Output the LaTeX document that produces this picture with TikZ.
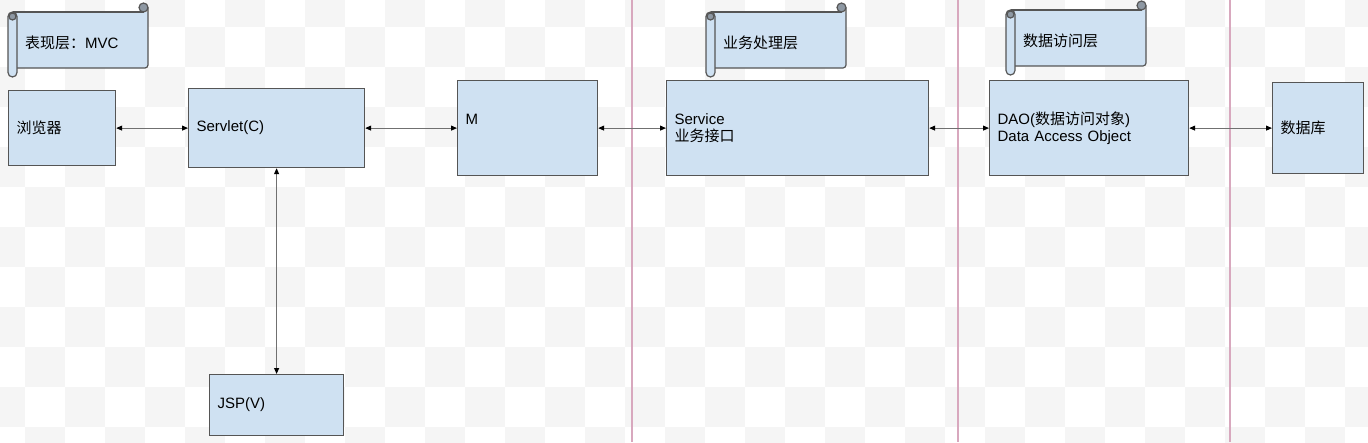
\documentclass[tikz,border=0pt]{standalone}
\usepackage{fontspec}
\setmainfont{Liberation Sans}
\newfontfamily\cjk{Noto Sans CJK SC}
\usetikzlibrary{arrows.meta}
\definecolor{boxfill}{HTML}{CFE1F2}
\definecolor{boxline}{HTML}{555555}
\definecolor{pinkline}{HTML}{D8A8BE}
\definecolor{checker}{HTML}{F5F5F5}
\definecolor{curl}{HTML}{8E98A3}
\definecolor{conn}{HTML}{707070}
\tikzset{
  txt/.style={font=\fontsize{15}{17}\selectfont, text=black},
  box/.style={txt, draw=boxline, fill=boxfill, line width=1.2pt, anchor=north west,
    inner xsep=8pt, inner ysep=0pt, align=left},
  link/.style={draw=conn, line width=1pt,
    {Triangle[length=6pt,width=5pt,color=black]}-{Triangle[length=6pt,width=5pt,color=black]}},
  lane/.style={draw=pinkline, line width=2pt},
  scrollpart/.style={draw=boxline, fill=boxfill, line width=1.2pt},
  curlpart/.style={draw=boxline, fill=curl, line width=1.2pt},
}
% name, x0, y0, x1, y1, text
\newcommand\myscroll[6]{%
  \fill[boxfill] ({#2+4.5},{#3+9}) -- (#4,{#3+9}) [rounded corners=3pt] -- (#4,{#5-9}) -- ({#2+4.5},{#5-9}) -- cycle;
  \draw[boxline, line width=1.2pt] ({#2+4.5},{#3+9}) -- ({#4-4.5},{#3+9});
  \draw[boxline, line width=1.2pt, rounded corners=3pt] (#4,{#3+4.5}) -- (#4,{#5-9}) -- ({#2+9},{#5-9});
  \filldraw[curlpart] ({#4-4.5},{#3+4.5}) circle (4.5);
  \filldraw[scrollpart, rounded corners=4.5pt] (#2,{#3+9}) rectangle ({#2+9},#5);
  \filldraw[curlpart] ({#2+4.5},{#3+13.5}) circle (3.5);
  \node[txt, anchor=west, inner sep=0pt] (#1) at ({#2+17},{#3+39.5}) {#6};
}
\begin{document}
\begin{tikzpicture}[x=1pt,y=-1pt]
\useasboundingbox (0,0) rectangle (1368,442);
\fill[white] (0,0) rectangle (1368,442);
% transparency checkerboard
\begin{scope}
\clip (0,0) rectangle (1368,442);
\foreach \i in {-1,...,34}{
  \foreach \j in {-1,...,10}{
    \pgfmathtruncatemacro\parity{mod(\i+\j+100,2)}
    \ifnum\parity=0
      \fill[checker] ({25+40*\i},{27+40*\j}) rectangle ({65+40*\i},{67+40*\j});
    \fi
  }
}
\end{scope}
% lane separators
\coordinate (l1t) at (632,0); \coordinate (l1b) at (632,442);
\coordinate (l2t) at (958,0); \coordinate (l2b) at (958,442);
\coordinate (l3t) at (1230,0); \coordinate (l3b) at (1230,442);
\draw[lane] (l1t) -- (l1b);
\draw[lane] (l2t) -- (l2b);
\draw[lane] (l3t) -- (l3b);
% scrolls
\myscroll{s1}{8}{3}{148}{77}{{\cjk 表现层：}MVC}
\myscroll{s2}{706}{3}{846}{77}{{\cjk 业务处理层}}
\myscroll{s3}{1006}{1}{1146}{75}{{\cjk 数据访问层}}
% boxes
\node[box, text width=91pt, minimum height=75pt] (browser) at (8,90) {{\cjk 浏览器}};
\node[box, text width=160pt, minimum height=79pt] (servlet) at (188,88) {Servlet(C)};
\node[box, text width=118pt, minimum height=61pt] (jsp) at (209,374) {JSP(V)};
\node[box, text width=124pt, minimum height=95pt] (m) at (457,80) {M\\\mbox{}};
\node[box, text width=246pt, minimum height=95pt] (service) at (666,80) {Service\\{\cjk 业务接口}};
\node[box, text width=183pt, minimum height=95pt] (dao) at (989,80) {DAO({\cjk 数据访问对象})\\Data Access Object};
\node[box, text width=75pt, minimum height=91pt] (db) at (1272,82) {{\cjk 数据库}};
% connectors
\draw[link] (browser.east) -- (servlet.west);
\draw[link] (servlet.east) -- (m.west);
\draw[link] (m.east) -- (service.west);
\draw[link] (service.east) -- (dao.west);
\draw[link] (dao.east) -- (db.west);
\draw[link] (servlet.south) -- (jsp.north);
\end{tikzpicture}
\end{document}
